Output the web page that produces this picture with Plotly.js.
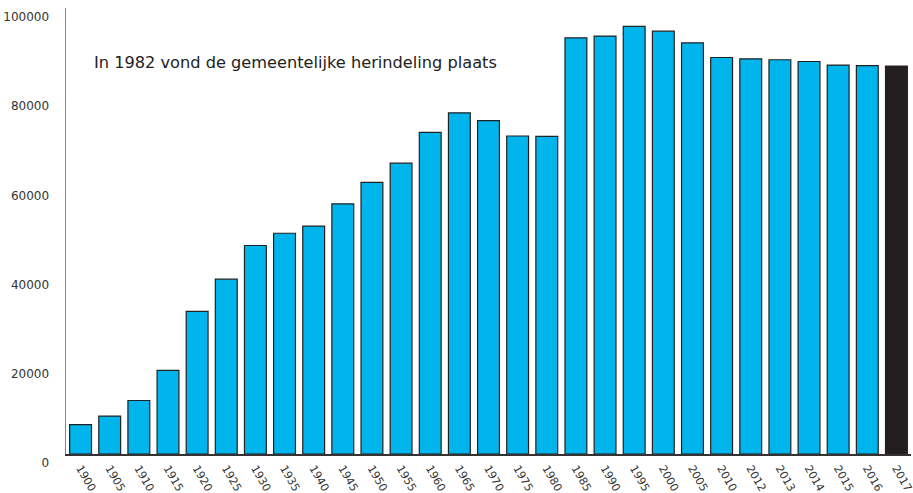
<!DOCTYPE html>
<html>
<head>
<meta charset="utf-8">
<script src="https://cdn.plot.ly/plotly-3.0.1.min.js"></script>
<style>html,body{margin:0;padding:0;background:#fff}#chart{width:913px;height:493px}</style>
</head>
<body>
<div id="chart"></div>
<script>
const years = ['1900','1905','1910','1915','1920','1925','1930','1935','1940','1945','1950','1955','1960','1965','1970','1975','1980','1985','1990','1995','2000','2005','2010','2012','2013','2014','2015','2016','2017'];
const inhabitants = [6600,8500,12000,18750,32000,39200,46750,49500,51100,56100,60900,65200,72100,76500,74750,71300,71200,93300,93700,95900,94800,92200,88900,88600,88400,88000,87200,87100,87000];
const yTicks = [0,20000,40000,60000,80000,100000];
const note = 'In 1982 vond de gemeentelijke herindeling plaats';

const colors = years.map((y, i) => i === years.length - 1 ? '#231f20' : '#00b4ec');

const trace = {
  type: 'bar',
  x: years,
  y: inhabitants,
  marker: {color: colors, line: {color: '#222222', width: 1.2}},
  hoverinfo: 'x+y',
  cliponaxis: false
};

const layout = {
  width: 913, height: 493,
  margin: {l: 66, r: 1.5, t: 8, b: 39, pad: 0},
  paper_bgcolor: '#ffffff', plot_bgcolor: '#ffffff',
  showlegend: false,
  bargap: 0.25,
  font: {family: 'DejaVu Sans, Verdana, sans-serif', color: '#333333', size: 11},
  xaxis: {
    type: 'category',
    range: [-0.5, years.length - 0.5],
    showgrid: false, zeroline: false,
    showline: true, linecolor: '#333333', linewidth: 1.5,
    ticks: '', tickangle: 60,
    tickfont: {size: 11, color: '#333333'},
    ticklabelstandoff: 2
  },
  yaxis: {
    range: [0, 100000],
    tickvals: yTicks,
    ticktext: yTicks.map(String),
    showgrid: false, zeroline: false,
    showline: true, linecolor: '#888888', linewidth: 1.5,
    ticks: '',
    tickfont: {size: 12, color: '#333333'},
    ticklabelshift: 9,
    ticklabelstandoff: 13
  },
  annotations: [{
    text: note, xref: 'paper', yref: 'paper',
    x: 0.0305, y: 0.877, xanchor: 'left', yanchor: 'middle',
    showarrow: false,
    font: {family: 'DejaVu Sans, Verdana, sans-serif', size: 16.2, color: '#222222'}
  }]
};

Plotly.newPlot('chart', [trace], layout, {displayModeBar: false, staticPlot: true});
</script>
</body>
</html>
